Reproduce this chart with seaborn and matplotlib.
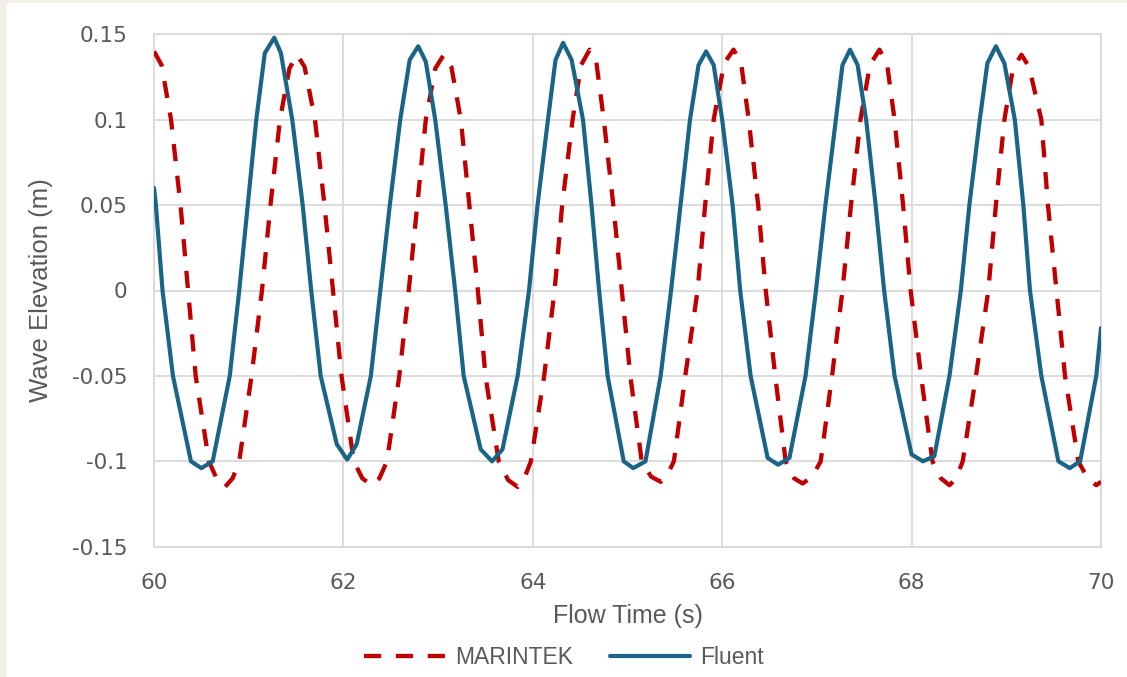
import matplotlib
matplotlib.use("Agg")
import matplotlib.pyplot as plt
import matplotlib.patches as mpatches
import seaborn as sns
import pandas as pd

# ---------------- data ----------------
fluent_t = [60.00, 60.02, 60.09, 60.20, 60.39, 60.50, 60.62, 60.80, 60.90, 60.99,
            61.08, 61.17, 61.27, 61.34, 61.46, 61.57, 61.66, 61.76, 61.93, 62.04,
            62.14, 62.29, 62.39, 62.49, 62.60, 62.70, 62.79, 62.87, 62.97, 63.08,
            63.18, 63.27, 63.45, 63.57, 63.68, 63.84, 63.96, 64.05, 64.16, 64.24,
            64.32, 64.41, 64.53, 64.62, 64.70, 64.79, 64.96, 65.06, 65.19, 65.35,
            65.46, 65.56, 65.66, 65.75, 65.83, 65.91, 66.00, 66.11, 66.19, 66.30,
            66.48, 66.59, 66.71, 66.88, 66.99, 67.09, 67.20, 67.27, 67.35, 67.43,
            67.52, 67.62, 67.71, 67.82, 68.00, 68.12, 68.24, 68.40, 68.52, 68.61,
            68.72, 68.80, 68.89, 68.98, 69.09, 69.18, 69.25, 69.37, 69.55, 69.67,
            69.78, 69.95, 70.00]
fluent_y = [0.060, 0.050, 0.000, -0.050, -0.100, -0.104, -0.100, -0.050, 0.000, 0.050,
            0.100, 0.139, 0.148, 0.139, 0.100, 0.050, 0.000, -0.050, -0.090, -0.099,
            -0.090, -0.050, 0.000, 0.050, 0.100, 0.135, 0.143, 0.134, 0.100, 0.050,
            0.000, -0.050, -0.093, -0.100, -0.093, -0.050, 0.000, 0.050, 0.100, 0.135,
            0.145, 0.135, 0.100, 0.050, 0.000, -0.050, -0.100, -0.104, -0.100, -0.050,
            0.000, 0.050, 0.100, 0.132, 0.140, 0.132, 0.100, 0.050, 0.000, -0.050,
            -0.098, -0.102, -0.098, -0.050, 0.000, 0.050, 0.100, 0.132, 0.141, 0.132,
            0.100, 0.050, 0.000, -0.050, -0.096, -0.100, -0.097, -0.050, 0.000, 0.050,
            0.100, 0.133, 0.143, 0.133, 0.100, 0.050, 0.000, -0.050, -0.100, -0.104,
            -0.100, -0.050, -0.022]

marintek_t = [60.00, 60.08, 60.18, 60.28, 60.36, 60.44, 60.58, 60.66, 60.75, 60.83,
              60.90, 61.03, 61.14, 61.23, 61.33, 61.43, 61.51, 61.59, 61.70, 61.80,
              61.89, 61.98, 62.11, 62.20, 62.30, 62.38, 62.46, 62.59, 62.69, 62.78,
              62.87, 62.97, 63.06, 63.14, 63.24, 63.33, 63.42, 63.50, 63.64, 63.74,
              63.84, 63.91, 63.98, 64.12, 64.23, 64.31, 64.42, 64.51, 64.60, 64.67,
              64.75, 64.85, 64.94, 65.03, 65.15, 65.25, 65.35, 65.42, 65.49, 65.61,
              65.74, 65.82, 65.91, 66.02, 66.12, 66.20, 66.28, 66.38, 66.46, 66.56,
              66.67, 66.76, 66.85, 66.95, 67.04, 67.16, 67.27, 67.36, 67.46, 67.56,
              67.66, 67.74, 67.82, 67.91, 67.99, 68.10, 68.22, 68.31, 68.40, 68.47,
              68.54, 68.68, 68.81, 68.89, 68.98, 69.07, 69.16, 69.24, 69.37, 69.44,
              69.53, 69.62, 69.76, 69.86, 69.95, 70.00]
marintek_y = [0.140, 0.132, 0.100, 0.050, 0.000, -0.050, -0.100, -0.110, -0.115, -0.110,
              -0.100, -0.050, 0.000, 0.050, 0.100, 0.130, 0.138, 0.131, 0.100, 0.050,
              0.000, -0.050, -0.100, -0.110, -0.114, -0.110, -0.100, -0.050, 0.000, 0.050,
              0.100, 0.130, 0.138, 0.131, 0.100, 0.050, 0.000, -0.050, -0.100, -0.111,
              -0.115, -0.110, -0.100, -0.050, 0.000, 0.050, 0.100, 0.132, 0.141, 0.134,
              0.100, 0.050, 0.000, -0.050, -0.100, -0.109, -0.112, -0.108, -0.100, -0.050,
              0.000, 0.050, 0.100, 0.133, 0.141, 0.133, 0.100, 0.050, 0.000, -0.050,
              -0.100, -0.110, -0.113, -0.109, -0.100, -0.050, 0.000, 0.050, 0.100, 0.132,
              0.141, 0.133, 0.100, 0.050, 0.000, -0.050, -0.100, -0.110, -0.114, -0.110,
              -0.100, -0.050, 0.000, 0.050, 0.100, 0.130, 0.138, 0.131, 0.100, 0.050,
              0.000, -0.050, -0.100, -0.110, -0.114, -0.112]

series_names = ["MARINTEK", "Fluent"]
x_ticks = [60, 62, 64, 66, 68, 70]
y_ticks = [-0.15, -0.1, -0.05, 0, 0.05, 0.1, 0.15]
y_tick_labels = ["-0.15", "-0.1", "-0.05", "0", "0.05", "0.1", "0.15"]
x_label = "Flow Time (s)"
y_label = "Wave Elevation (m)"

# ---------------- styling ----------------
sns.set_style("white")
plt.rcParams['font.family'] = ['Liberation Sans', 'DejaVu Sans']

RED = "#c00000"
BLUE = "#1a6488"
GRID = "#d9d9d9"
TXT = "#595959"

fig = plt.figure(figsize=(11.27, 6.77), dpi=100)
fig.patch.set_facecolor("white")
W, H = 1127, 677
# beige page strips (left and top)
fig.patches.append(mpatches.Rectangle((0, 0), 7 / W, 1, transform=fig.transFigure,
                                      facecolor="#f2f0e4", edgecolor="none", zorder=0))
fig.patches.append(mpatches.Rectangle((0, 1 - 3 / H), 1, 3 / H, transform=fig.transFigure,
                                      facecolor="#f2f0e4", edgecolor="none", zorder=0))

left, right = 154 / W, 1101 / W
top, bottom = 1 - 34.3 / H, 1 - 546.7 / H
ax = fig.add_axes([left, bottom, right - left, top - bottom])

df_m = pd.DataFrame({"t": marintek_t, "y": marintek_y})
df_f = pd.DataFrame({"t": fluent_t, "y": fluent_y})

sns.lineplot(data=df_m, x="t", y="y", ax=ax, color=RED, linewidth=3.1,
             label=series_names[0], sort=False, zorder=3)
line_m = ax.lines[-1]
line_m.set_dashes((4.0, 3.4))
line_m.set_dash_joinstyle("round")
sns.lineplot(data=df_f, x="t", y="y", ax=ax, color=BLUE, linewidth=3.0,
             label=series_names[1], sort=False, zorder=4)
line_f = ax.lines[-1]
line_f.set_solid_joinstyle("round")
line_f.set_solid_capstyle("round")

ax.set_xlim(60, 70)
ax.set_ylim(-0.15, 0.15)
ax.set_xticks(x_ticks)
ax.set_xticklabels([str(v) for v in x_ticks])
ax.set_yticks(y_ticks)
ax.set_yticklabels(y_tick_labels)
ax.grid(True, color=GRID, linewidth=1.3)
ax.set_axisbelow(True)
for s in ax.spines.values():
    s.set_color(GRID)
    s.set_linewidth(1.3)
ax.tick_params(axis="both", length=0, colors=TXT, labelsize=15.5)
ax.tick_params(axis="x", pad=19)
ax.tick_params(axis="y", pad=19)
for lab in ax.get_xticklabels() + ax.get_yticklabels():
    lab.set_family(['DejaVu Sans'])

ax.set_xlabel(x_label, fontsize=18, color=TXT)
ax.set_ylabel(y_label, fontsize=18.5, color=TXT)
ax.xaxis.set_label_coords(0.5, -0.112)
ax.yaxis.set_label_coords(-0.107, 0.5)

ax.get_legend().remove()
handles, labels = ax.get_legend_handles_labels()
leg = fig.legend(handles, labels, loc="center", bbox_to_anchor=(564 / W, 1 - 658 / H),
                 ncol=2, frameon=False, fontsize=16.5, handlelength=3.5,
                 handletextpad=0.45, columnspacing=1.6)
for t in leg.get_texts():
    t.set_color(TXT)

fig.savefig("out.png", dpi=100, facecolor=fig.get_facecolor())
